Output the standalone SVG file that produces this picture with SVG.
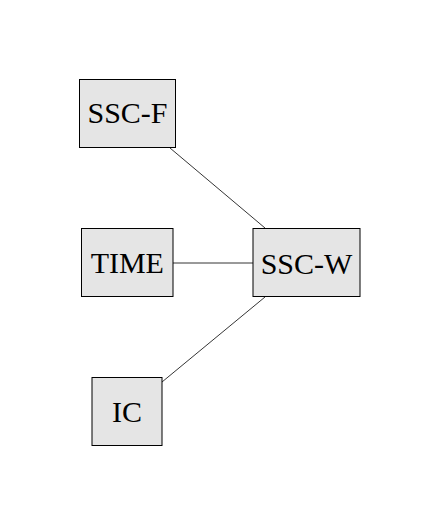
<svg xmlns="http://www.w3.org/2000/svg" width="440" height="526" viewBox="0 0 440 526">
<style>
.box{fill:#e5e5e5;stroke:#000;stroke-width:1}
.lbl{font-family:"Liberation Serif","DejaVu Serif",serif;font-size:30px;text-anchor:middle;fill:#000}
.edge{stroke:#000;stroke-width:0.8;fill:none}
</style>
<rect width="440" height="526" fill="#fff"/>
<g id="connectors">
<line class="edge" x1="170" y1="148" x2="265" y2="228"/>
<line class="edge" x1="173" y1="263" x2="253" y2="263"/>
<line class="edge" x1="162" y1="382" x2="265" y2="297"/>
</g>
<g id="ssc-f">
<rect class="box" x="79.5" y="79.5" width="96" height="68"/>
<text class="lbl" x="127.5" y="123">SSC-F</text>
</g>
<g id="time">
<rect class="box" x="81.5" y="228.5" width="91.5" height="68"/>
<text class="lbl" x="127.3" y="273">TIME</text>
</g>
<g id="ssc-w">
<rect class="box" x="253" y="228.5" width="107" height="68"/>
<text class="lbl" x="306.5" y="274">SSC-W</text>
</g>
<g id="ic">
<rect class="box" x="92" y="377.5" width="70" height="68"/>
<text class="lbl" x="127" y="422">IC</text>
</g>
</svg>
